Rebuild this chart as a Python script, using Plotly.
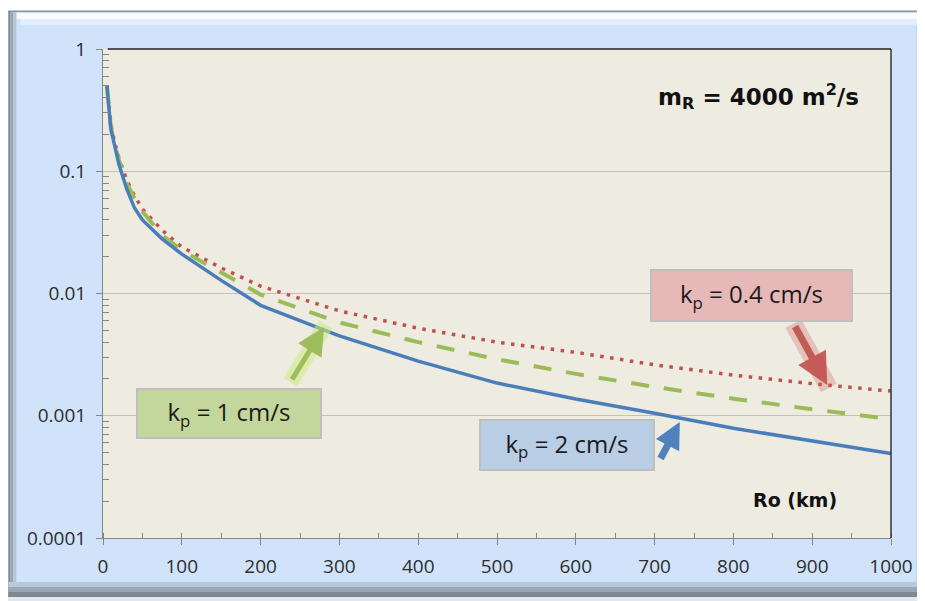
import plotly.graph_objects as go

# ---------------- data ----------------
ro_km = [5, 10, 15, 20, 30, 40, 50, 75, 100, 150, 200, 300, 400, 500, 600, 700, 800, 900, 1000]

kp2_blue = [0.5, 0.22, 0.16, 0.115, 0.072, 0.05, 0.04, 0.028, 0.021, 0.0128, 0.008,
            0.0045, 0.0028, 0.00185, 0.00137, 0.00105, 0.00079, 0.00062, 0.00049]
kp1_green = [0.5, 0.23, 0.165, 0.125, 0.08, 0.06, 0.047, 0.03, 0.0225, 0.0148, 0.0098,
             0.0058, 0.0040, 0.0029, 0.0022, 0.00172, 0.00138, 0.00113, 0.00094]
kp04_red = [0.5, 0.24, 0.17, 0.13, 0.085, 0.063, 0.049, 0.033, 0.024, 0.0162, 0.0115,
            0.0072, 0.0052, 0.0040, 0.0033, 0.00261, 0.00215, 0.00183, 0.00159]

y_tickvals = [0.0001, 0.001, 0.01, 0.1, 1]
y_ticktext = ["0.0001", "0.001", "0.01", "0.1", "1"]
x_tickvals = [0, 100, 200, 300, 400, 500, 600, 700, 800, 900, 1000]

# ---------------- geometry helpers (screen pixels of the 925x601 view) ----------------
OFF = 8                      # page body margin
W, H = 925 - OFF, 601 - OFF  # figure size
L, R, T, B = 103, 894, 49, 538  # plot area in screen pixels


def px(x):
    return (x - L) / (R - L)


def py(y):
    return (B - y) / (B - T)


TICKFONT = "'Open Sans', sans-serif"
BOLDFONT = "'DejaVu Sans', sans-serif"
BLUE = "#4A7EBB"
GREEN = "#9BBB59"
RED = "#C0504D"

fig = go.Figure()

fig.add_trace(go.Scatter(x=ro_km, y=kp04_red, mode="lines", name="kp = 0.4 cm/s",
                         line=dict(color=RED, width=3.5, dash="3.5px,6.5px")))
fig.add_trace(go.Scatter(x=ro_km, y=kp1_green, mode="lines", name="kp = 1 cm/s",
                         line=dict(color=GREEN, width=4, dash="18px,15px")))
fig.add_trace(go.Scatter(x=ro_km, y=kp2_blue, mode="lines", name="kp = 2 cm/s",
                         line=dict(color=BLUE, width=3.5)))

minor_y = [m * 10 ** e for e in range(-4, 0) for m in range(2, 10)]

fig.update_layout(
    width=W, height=H,
    margin=dict(l=L - OFF, r=W + OFF - R, t=T - OFF, b=H + OFF - B),
    paper_bgcolor="#D0E3FA",
    plot_bgcolor="#EEEBE0",
    showlegend=False,
    font=dict(family=TICKFONT, color="#333333"),
    xaxis=dict(
        range=[0, 1000], tickmode="array", tickvals=x_tickvals,
        ticks="outside", ticklen=6, tickcolor="#868686", tickwidth=1,
        showline=True, linecolor="#868686", linewidth=1,
        showgrid=False, zeroline=False,
        tickfont=dict(size=19, family=TICKFONT, color="#2E2E2E"),
        ticklabelstandoff=5,
        minor=dict(dtick=50, ticks="inside", ticklen=5, tickcolor="#868686", showgrid=False),
    ),
    yaxis=dict(
        type="log", range=[-4, 0], tickmode="array",
        tickvals=y_tickvals, ticktext=y_ticktext,
        ticks="outside", ticklen=6, tickcolor="#868686", tickwidth=1,
        showline=True, linecolor="#868686", linewidth=1,
        showgrid=True, gridcolor="#C4C1B8", gridwidth=1, zeroline=False,
        tickfont=dict(size=19, family=TICKFONT, color="#2E2E2E"),
        ticklabelstandoff=6,
        minor=dict(tickmode="array", tickvals=minor_y, ticks="inside", ticklen=6,
                   tickcolor="#868686", showgrid=False),
    ),
)

shapes = []


def rect(x0, x1, y0, y1, color):
    shapes.append(dict(type="rect", xref="paper", yref="paper", layer="above",
                       x0=px(x0), x1=px(x1), y0=py(y1), y1=py(y0),
                       fillcolor=color, line=dict(width=0)))


# white strip above the frame
rect(0, 925, 0, 10.5, "#FFFFFF")
# top gray edge
shapes.append(dict(type="line", xref="paper", yref="paper", layer="above",
                   x0=px(8), x1=px(925), y0=py(11.5), y1=py(11.5),
                   line=dict(color="#8E98A3", width=2)))
# top highlight bevel
rect(16, 925, 12.5, 19, "rgba(255,255,255,0.85)")
rect(20, 925, 19, 25, "rgba(255,255,255,0.4)")
# left shadow bands
rect(8, 10, 11, 598, "#7E8994")
rect(10, 13, 12.5, 598, "#9AA6B4")
rect(13, 16, 12.5, 598, "#B6C5D8")
# bottom shadow bands
rect(8, 925, 582, 587, "#B9C8DA")
rect(8, 925, 587, 592, "#9AA6B4")
rect(8, 925, 592, 597, "#7E8994")
rect(0, 925, 597, 601, "#E4E8EC")
# right slight shade
rect(919, 925, 25, 582, "#C2D5EC")
# plot area top and right dark border
shapes.append(dict(type="line", xref="paper", yref="paper", layer="above",
                   x0=0.006, x1=1, y0=1, y1=1, line=dict(color="#222222", width=1.5)))
shapes.append(dict(type="line", xref="paper", yref="paper", layer="above",
                   x0=1, x1=1, y0=0, y1=1, line=dict(color="#333333", width=1.5)))
fig.update_layout(shapes=shapes)

ann = []
ann.append(dict(xref="paper", yref="paper", x=px(761), y=py(96), showarrow=False,
                xanchor="center", yanchor="middle",
                text="<b>m<sub>R</sub> = 4000 m<sup>2</sup>/s</b>",
                font=dict(size=23, family=BOLDFONT, color="#111111")))
ann.append(dict(xref="paper", yref="paper", x=px(798), y=py(500), showarrow=False,
                xanchor="center", yanchor="middle",
                text="<b>Ro (km)</b>", font=dict(size=19, family=BOLDFONT, color="#111111")))

# arrows: tip (screen px), offset to tail, colour, glow colour, width, head size
arrows = [
    (830, 385, -33, -60, "rgba(192,80,77,0.9)", "rgba(205,90,88,0.28)", 7, 0.9),
    (325, 327, -33, 54, "rgba(155,187,89,0.95)", "rgba(205,235,130,0.55)", 5, 1.1),
    (682, 422, -20, 38, "#4F81BD", None, 7, 0.75),
]
for tx, ty, dx, dy, col, glow, w, hs in arrows:
    if glow:
        ann.append(dict(xref="paper", yref="paper", x=px(tx - 0.05 * dx), y=py(ty - 0.05 * dy),
                        ax=dx * 1.1, ay=dy * 1.1,
                        showarrow=True, arrowhead=0, arrowwidth=w + 11,
                        arrowcolor=glow, text=""))
    ann.append(dict(xref="paper", yref="paper", x=px(tx), y=py(ty), ax=dx, ay=dy,
                    showarrow=True, arrowhead=2, arrowsize=hs, arrowwidth=w,
                    arrowcolor=col, text=""))

# label boxes
boxes = [
    ("k<sub>p</sub> = 0.4 cm/s", 652, 855, 269, 322, "#E6B9B8"),
    ("k<sub>p</sub> = 1 cm/s", 136, 322, 388, 439, "#C3D69B"),
    ("k<sub>p</sub> = 2 cm/s", 481, 657, 419, 471, "#B9CDE5"),
]
for txt, x0, x1, y0, y1, bg in boxes:
    ann.append(dict(xref="paper", yref="paper", x=px((x0 + x1) / 2), y=py((y0 + y1) / 2),
                    xanchor="center", yanchor="middle", showarrow=False,
                    text=txt, align="center", valign="middle",
                    width=x1 - x0 - 4, height=y1 - y0 - 4, borderpad=0, borderwidth=2,
                    bgcolor=bg, bordercolor="#BFBFBF",
                    font=dict(size=24, family=TICKFONT, color="#1A1A1A")))
fig.update_layout(annotations=ann)

fig.write_html("out.html")
